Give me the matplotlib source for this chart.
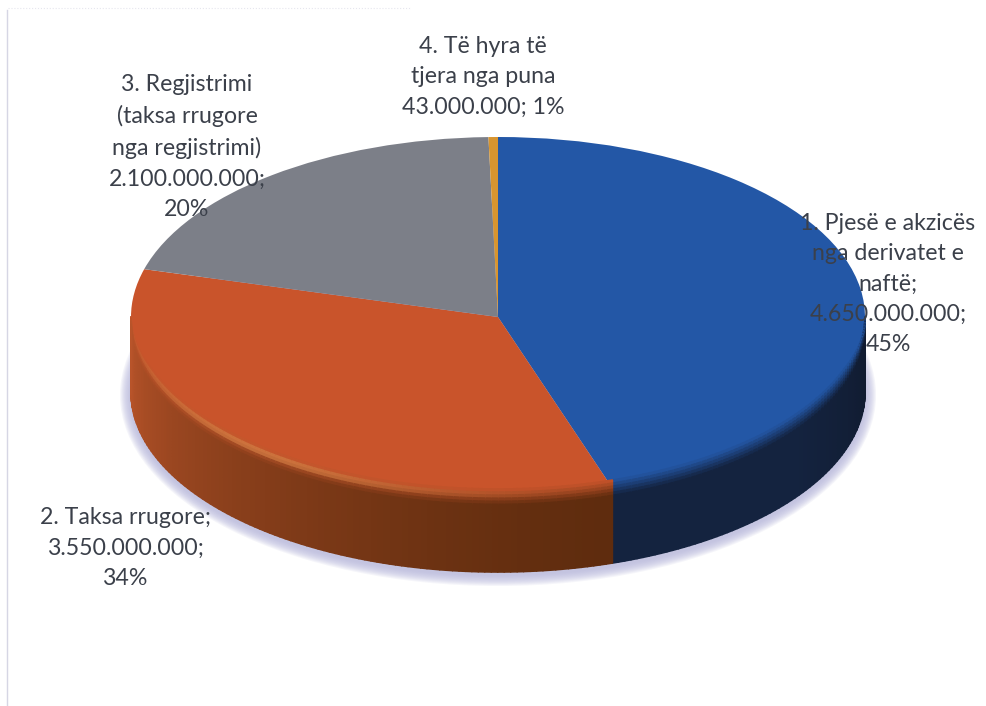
import numpy as np
import matplotlib
matplotlib.use('Agg')
import matplotlib.pyplot as plt
from matplotlib.collections import PolyCollection
from matplotlib.patches import Ellipse
from matplotlib.colors import to_rgb

names = ['1. Pjesë e akzicës', '2. Taksa rrugore', '3. Regjistrimi', '4. Të hyra të']
values = [4650000000, 3550000000, 2100000000, 43000000]
percents = ['45%', '34%', '20%', '1%']
top_colors = ['#2357a6', '#c9542b', '#7c7f88', '#d8952f']
side_light = ['#14233f', '#b9542a', '#55585f', '#96681f']
side_dark = ['#101a2e', '#5f2c0e', '#55585f', '#96681f']

label_lines = [
    [names[0], 'nga derivatet e', 'naftë;', '4.650.000.000;', percents[0]],
    [names[1] + ';', '3.550.000.000;', percents[1]],
    [names[2], '(taksa rrugore', 'nga regjistrimi)', '2.100.000.000;', percents[2]],
    [names[3], 'tjera nga puna', '43.000.000; ' + percents[3]],
]
label_pos = [(888, 213), (125, 507), (187, 74), (483, 36)]

W, H = 986, 706
cx, cy = 498, 317
rx, ry = 367, 180
depth = 75 / ry

plt.rcParams['font.family'] = ['Lato', 'DejaVu Sans']
fig = plt.figure(figsize=(W / 100, H / 100), dpi=100)
ax = fig.add_axes([0, 0, 1, 1])


def mix(a, b, t):
    a, b = np.array(to_rgb(a)), np.array(to_rgb(b))
    return tuple(a + (b - a) * t)


def rim(t, d):
    # rows above the rim shrink to nothing at the two tips of the ellipse
    if d < 0:
        d = d * min(1, abs(np.cos(t)) * 3)
    return np.cos(t) - d


# shadow under the pie
for i in range(10):
    grow = (10 - i) * 1.1
    ax.add_patch(Ellipse((0, -depth - 3 / ry), 2 + 2 * grow / rx, 2 + 2 * grow / ry,
                         fc='#b4b4da', ec='none', alpha=0.13, zorder=1))

wedges, _ = ax.pie(values, colors=top_colors, startangle=90, counterclock=False,
                   wedgeprops={'linewidth': 0, 'zorder': 2}, normalize=True)

# side wall, cut in small cells by angle and depth
edges = np.cumsum([0] + values) / sum(values) * 360
polys = []
cols = []
rows = np.linspace(-8 / ry, depth, 28)
for k in range(len(values)):
    lo = max(edges[k], 90)
    hi = min(edges[k + 1], 270)
    if hi <= lo:
        continue
    steps = np.linspace(lo, hi, max(int((hi - lo) / 1.0), 2))
    for a0, a1 in zip(steps[:-1], steps[1:]):
        t0, t1 = np.radians(a0), np.radians(a1)
        f = (0.5 * (a0 + a1) - lo) / max(hi - lo, 1)
        if k == 0:
            base = mix(side_dark[0], side_light[0], min(f * 2, 1))
        elif k == 1:
            base = mix(side_dark[1], side_light[1], f ** 1.4)
        else:
            base = to_rgb(side_light[k])
        for d0, d1 in zip(rows[:-1], rows[1:]):
            m = 0.5 * (d0 + d1) * ry
            blend = np.clip((m + 8) / 16, 0, 1)
            c = mix(top_colors[k], base, blend)
            if k == 1:
                # light rim along the edge of the orange slice
                glow = np.exp(-((a0 - 220) / 34) ** 2) * np.exp(-((m + 2) / 3.0) ** 2)
                c = mix(c, '#e59a55', 0.6 * glow)
            polys.append([(np.sin(t0), rim(t0, d0)), (np.sin(t1), rim(t1, d0)),
                          (np.sin(t1), rim(t1, d1)), (np.sin(t0), rim(t0, d1))])
            cols.append(c)
ax.add_collection(PolyCollection(polys, facecolors=cols, edgecolors=cols, linewidths=1.2, zorder=3))

# stretch the unit pie to the ellipse
ax.set_aspect('auto')
ax.set_xlim(-cx / rx, (W - cx) / rx)
ax.set_ylim((cy - H) / ry, cy / ry)
ax.axis('off')

# scan borders
ax.plot([(7 - cx) / rx, (7 - cx) / rx], [(cy - 10) / ry, (cy - H) / ry], color='#d6d6e4', lw=1, zorder=1)
ax.plot([(8 - cx) / rx, (410 - cx) / rx], [(cy - 8) / ry, (cy - 8) / ry], color='#e6e6ee', lw=0.8, ls=':', zorder=1)

for lines, (px, py) in zip(label_lines, label_pos):
    ax.text((px - cx) / rx, (cy - py) / ry, '\n'.join(lines), ha='center', va='top',
            fontsize=16.7, color='#3b404a', linespacing=1.55, zorder=5)

fig.savefig('out.png', dpi=100)
